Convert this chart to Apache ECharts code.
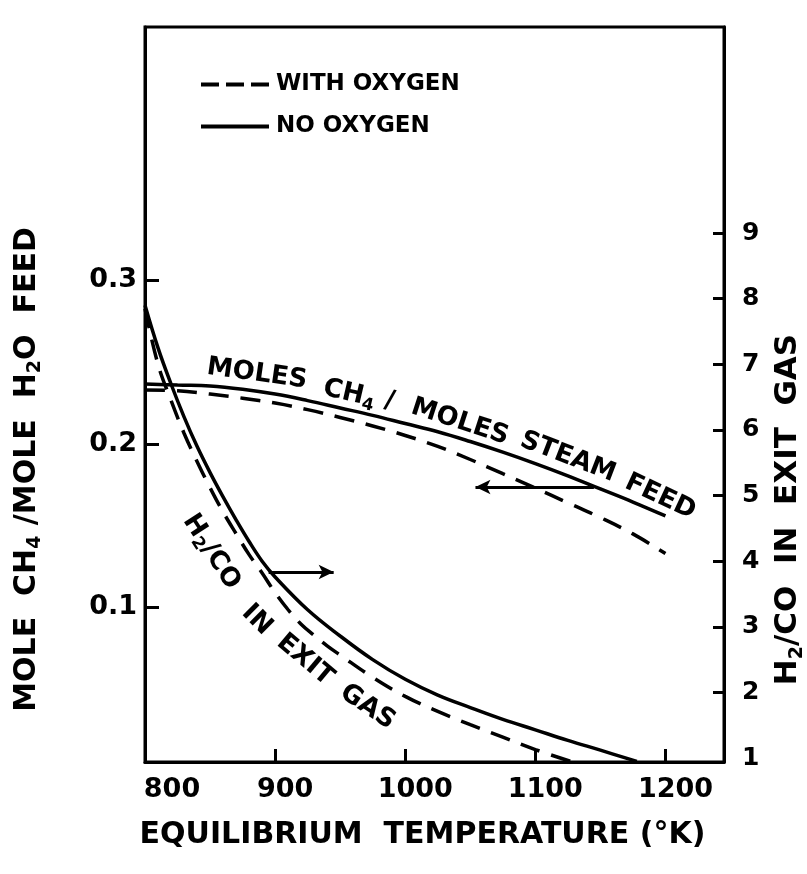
<!DOCTYPE html>
<html>
<head>
<meta charset="utf-8">
<script src="https://cdn.jsdelivr.net/npm/echarts@6/dist/echarts.min.js"></script>
<style>
  html, body { margin: 0; padding: 0; background: #fff; }
  #chart { width: 807px; height: 874px; }
</style>
</head>
<body>
<div id="chart"></div>
<script>
// temperature (K) and mole CH4 / mole H2O feed (left axis)
const ch4Temps = [800, 825, 850, 875, 900, 925, 950, 975, 1000, 1025, 1050, 1075, 1100, 1125, 1150, 1175, 1200];
const ch4NoOxygen = [0.2367, 0.236, 0.2355, 0.2335, 0.2305, 0.2265, 0.222, 0.2175, 0.2125, 0.2075, 0.2015, 0.195, 0.188, 0.1805, 0.1725, 0.1645, 0.156];
const ch4WithOxygen = [0.233, 0.2325, 0.2305, 0.228, 0.225, 0.221, 0.2162, 0.211, 0.2052, 0.1985, 0.1905, 0.1818, 0.173, 0.164, 0.155, 0.145, 0.133];

// H2/CO ratio in exit gas (right axis)
const h2coNoTemps = [800, 810, 820, 830, 840, 850, 860, 870, 880, 890, 900, 925, 950, 975, 1000, 1025, 1050, 1075, 1100, 1125, 1150, 1178];
const h2coNoOxygen = [7.9, 7.25, 6.7, 6.2, 5.75, 5.35, 4.98, 4.63, 4.3, 4.0, 3.76, 3.26, 2.86, 2.5, 2.2, 1.96, 1.77, 1.59, 1.43, 1.27, 1.12, 0.95];
const h2coWithTemps = [800, 810, 820, 830, 840, 850, 860, 870, 880, 890, 900, 910, 920, 930, 940, 950, 975, 1000, 1025, 1050, 1075, 1100, 1127];
const h2coWithOxygen = [7.85, 7.0, 6.45, 5.95, 5.52, 5.12, 4.75, 4.42, 4.1, 3.82, 3.52, 3.26, 3.04, 2.87, 2.71, 2.57, 2.23, 1.94, 1.71, 1.51, 1.32, 1.13, 0.95];

// tick labels
const tempTicks = [800, 900, 1000, 1100, 1200];
const ch4Ticks = [0.1, 0.2, 0.3];
const ratioTicks = [1, 2, 3, 4, 5, 6, 7, 8, 9];

// arrows pointing to the axis each curve belongs to (data coords)
const ch4Arrow = [[1145, 0.1737], [1054, 0.1737]];
const h2coArrow = [[895, 3.835], [945, 3.835]];

const FONT = "'DejaVu Sans', sans-serif";
const BLACK = '#000';
const DASH = [20, 12];

function lineSeries(name, temps, values, yIndex, dashed) {
	return {
		name: name,
		type: 'line',
		yAxisIndex: yIndex,
		data: temps.map(function (t, i) { return [t, values[i]]; }),
		symbol: 'none',
		smooth: 0.4,
		silent: true,
		lineStyle: { color: BLACK, width: 3.5, type: dashed ? DASH : 'solid' },
		itemStyle: { color: BLACK }
	};
}

function arrow(points) {
	return {
		silent: true,
		symbol: ['none', 'arrow'],
		symbolSize: [11, 15],
		label: { show: false },
		lineStyle: { color: BLACK, width: 3, type: 'solid' },
		data: [[{ coord: points[0] }, { coord: points[1] }]]
	};
}

let ch4No = lineSeries('NO OXYGEN', ch4Temps, ch4NoOxygen, 0, false);
ch4No.markLine = arrow(ch4Arrow);
let h2coNo = lineSeries('NO OXYGEN', h2coNoTemps, h2coNoOxygen, 1, false);
h2coNo.markLine = arrow(h2coArrow);

let myChart = echarts.init(document.getElementById('chart'));
let option = {
	animation: false,
	backgroundColor: '#fff',
	textStyle: { fontFamily: FONT, fontWeight: 'bold', color: BLACK },
	grid: {
		left: 145, right: 83, top: 27, bottom: 112,
		show: true, borderColor: BLACK, borderWidth: 3,
		outerBoundsMode: 'none'
	},
	legend: {
		orient: 'vertical',
		left: 196,
		top: 68,
		itemWidth: 68,
		itemHeight: 4,
		itemGap: 19,
		selectedMode: false,
		data: [
			{ name: 'WITH OXYGEN', icon: 'path://M0,0H18V4H0Z M25,0H43V4H25Z M50,0H68V4H50Z' },
			{ name: 'NO OXYGEN', icon: 'path://M0,0H68V4H0Z' }
		],
		itemStyle: { color: BLACK, borderWidth: 0 },
		textStyle: { fontFamily: FONT, fontWeight: 'bold', fontSize: 23, color: BLACK, padding: [0, 0, 0, 2] }
	},
	xAxis: {
		type: 'value',
		min: 800,
		max: 1245,
		name: 'EQUILIBRIUM  TEMPERATURE (°K)',
		nameLocation: 'middle',
		nameGap: 58,
		nameTextStyle: { fontFamily: FONT, fontWeight: 'bold', fontSize: 30, color: BLACK, padding: [0, 24, 0, 0] },
		axisLine: { show: true, lineStyle: { color: BLACK, width: 3 } },
		axisTick: { show: true, inside: true, length: 13, customValues: [900, 1000, 1100, 1200], lineStyle: { color: BLACK, width: 3 } },
		axisLabel: {
			customValues: tempTicks, fontFamily: FONT, fontWeight: 'bold', fontSize: 27, color: BLACK, margin: 14,
			padding: [0, 0, 0, 20],
			formatter: function (v) { return v === 800 ? '{f|800}' : String(v); },
			rich: { f: { fontFamily: FONT, fontWeight: 'bold', fontSize: 27, color: BLACK, padding: [0, 0, 0, 34] } }
		},
		splitLine: { show: false }
	},
	yAxis: [
		{
			type: 'value',
			position: 'left',
			min: 0.0055,
			max: 0.455,
			name: 'MOLE  CH{s|4} /MOLE  H{s|2}O  FEED',
			nameLocation: 'middle',
			nameRotate: 90,
			nameGap: 100,
			nameTextStyle: {
				fontFamily: FONT, fontWeight: 'bold', fontSize: 30, color: BLACK, lineHeight: 36,
				padding: [0, 150, 0, 0],
				rich: { s: { fontFamily: FONT, fontWeight: 'bold', fontSize: 19, lineHeight: 19, verticalAlign: 'bottom' } }
			},
			axisLine: { show: true, lineStyle: { color: BLACK, width: 3 } },
			axisTick: { show: true, inside: true, length: 14, customValues: ch4Ticks, lineStyle: { color: BLACK, width: 3 } },
			axisLabel: {
				customValues: ch4Ticks, fontFamily: FONT, fontWeight: 'bold', fontSize: 27, color: BLACK, margin: 8,
				formatter: function (v) { return v.toFixed(1); }
			},
			splitLine: { show: false }
		},
		{
			type: 'value',
			position: 'right',
			min: 0.94,
			max: 12.14,
			name: 'H{s|2}/CO  IN  EXIT  GAS',
			nameLocation: 'middle',
			nameRotate: 90,
			nameGap: 42,
			nameTextStyle: {
				fontFamily: FONT, fontWeight: 'bold', fontSize: 31, color: BLACK, lineHeight: 36,
				padding: [0, 230, 0, 0],
				rich: { s: { fontFamily: FONT, fontWeight: 'bold', fontSize: 19, lineHeight: 19, verticalAlign: 'bottom' } }
			},
			axisLine: { show: true, lineStyle: { color: BLACK, width: 3 } },
			axisTick: { show: true, inside: true, length: 11, customValues: [2, 3, 4, 5, 6, 7, 8, 9], lineStyle: { color: BLACK, width: 3 } },
			axisLabel: { customValues: ratioTicks, fontFamily: FONT, fontWeight: 'bold', fontSize: 25, color: BLACK, margin: 18 },
			splitLine: { show: false }
		}
	],
	series: [
		ch4No,
		lineSeries('WITH OXYGEN', ch4Temps, ch4WithOxygen, 0, true),
		h2coNo,
		lineSeries('WITH OXYGEN', h2coWithTemps, h2coWithOxygen, 1, true)
	]
};
myChart.setOption(option);

// text written along the curves, anchored in data coords (temperature, left axis)
const curveLabels = [
	{ text: 'MOLES', at: [886, 0.2428], angle: 8 },
	{ text: 'CH{s|4}', at: [957, 0.2306], angle: 13 },
	{ text: '/', at: [988, 0.2262], angle: 12 },
	{ text: 'MOLES', at: [1042, 0.2135], angle: 18 },
	{ text: 'STEAM', at: [1125, 0.192], angle: 21 },
	{ text: 'FEED', at: [1196, 0.1676], angle: 25 },
	{ text: 'H{s|2}/CO', at: [851, 0.134], angle: 57 },
	{ text: 'IN', at: [886, 0.0924], angle: 45 },
	{ text: 'EXIT', at: [923, 0.0679], angle: 40 },
	{ text: 'GAS', at: [971, 0.0391], angle: 34 }
];
let labelGraphics = curveLabels.map(function (item) {
	let p = myChart.convertToPixel({ xAxisIndex: 0, yAxisIndex: 0 }, item.at);
	return {
		type: 'text',
		x: p[0],
		y: p[1],
		rotation: -item.angle * Math.PI / 180,
		silent: true,
		style: {
			text: item.text,
			fontFamily: FONT,
			fontWeight: 'bold',
			fontSize: 26,
			fill: BLACK,
			align: 'center',
			verticalAlign: 'middle',
			rich: { s: { fontFamily: FONT, fontWeight: 'bold', fontSize: 17, fill: BLACK, padding: [14, 0, 0, 0] } }
		}
	};
});
myChart.setOption({ graphic: labelGraphics });
</script>
</body>
</html>
